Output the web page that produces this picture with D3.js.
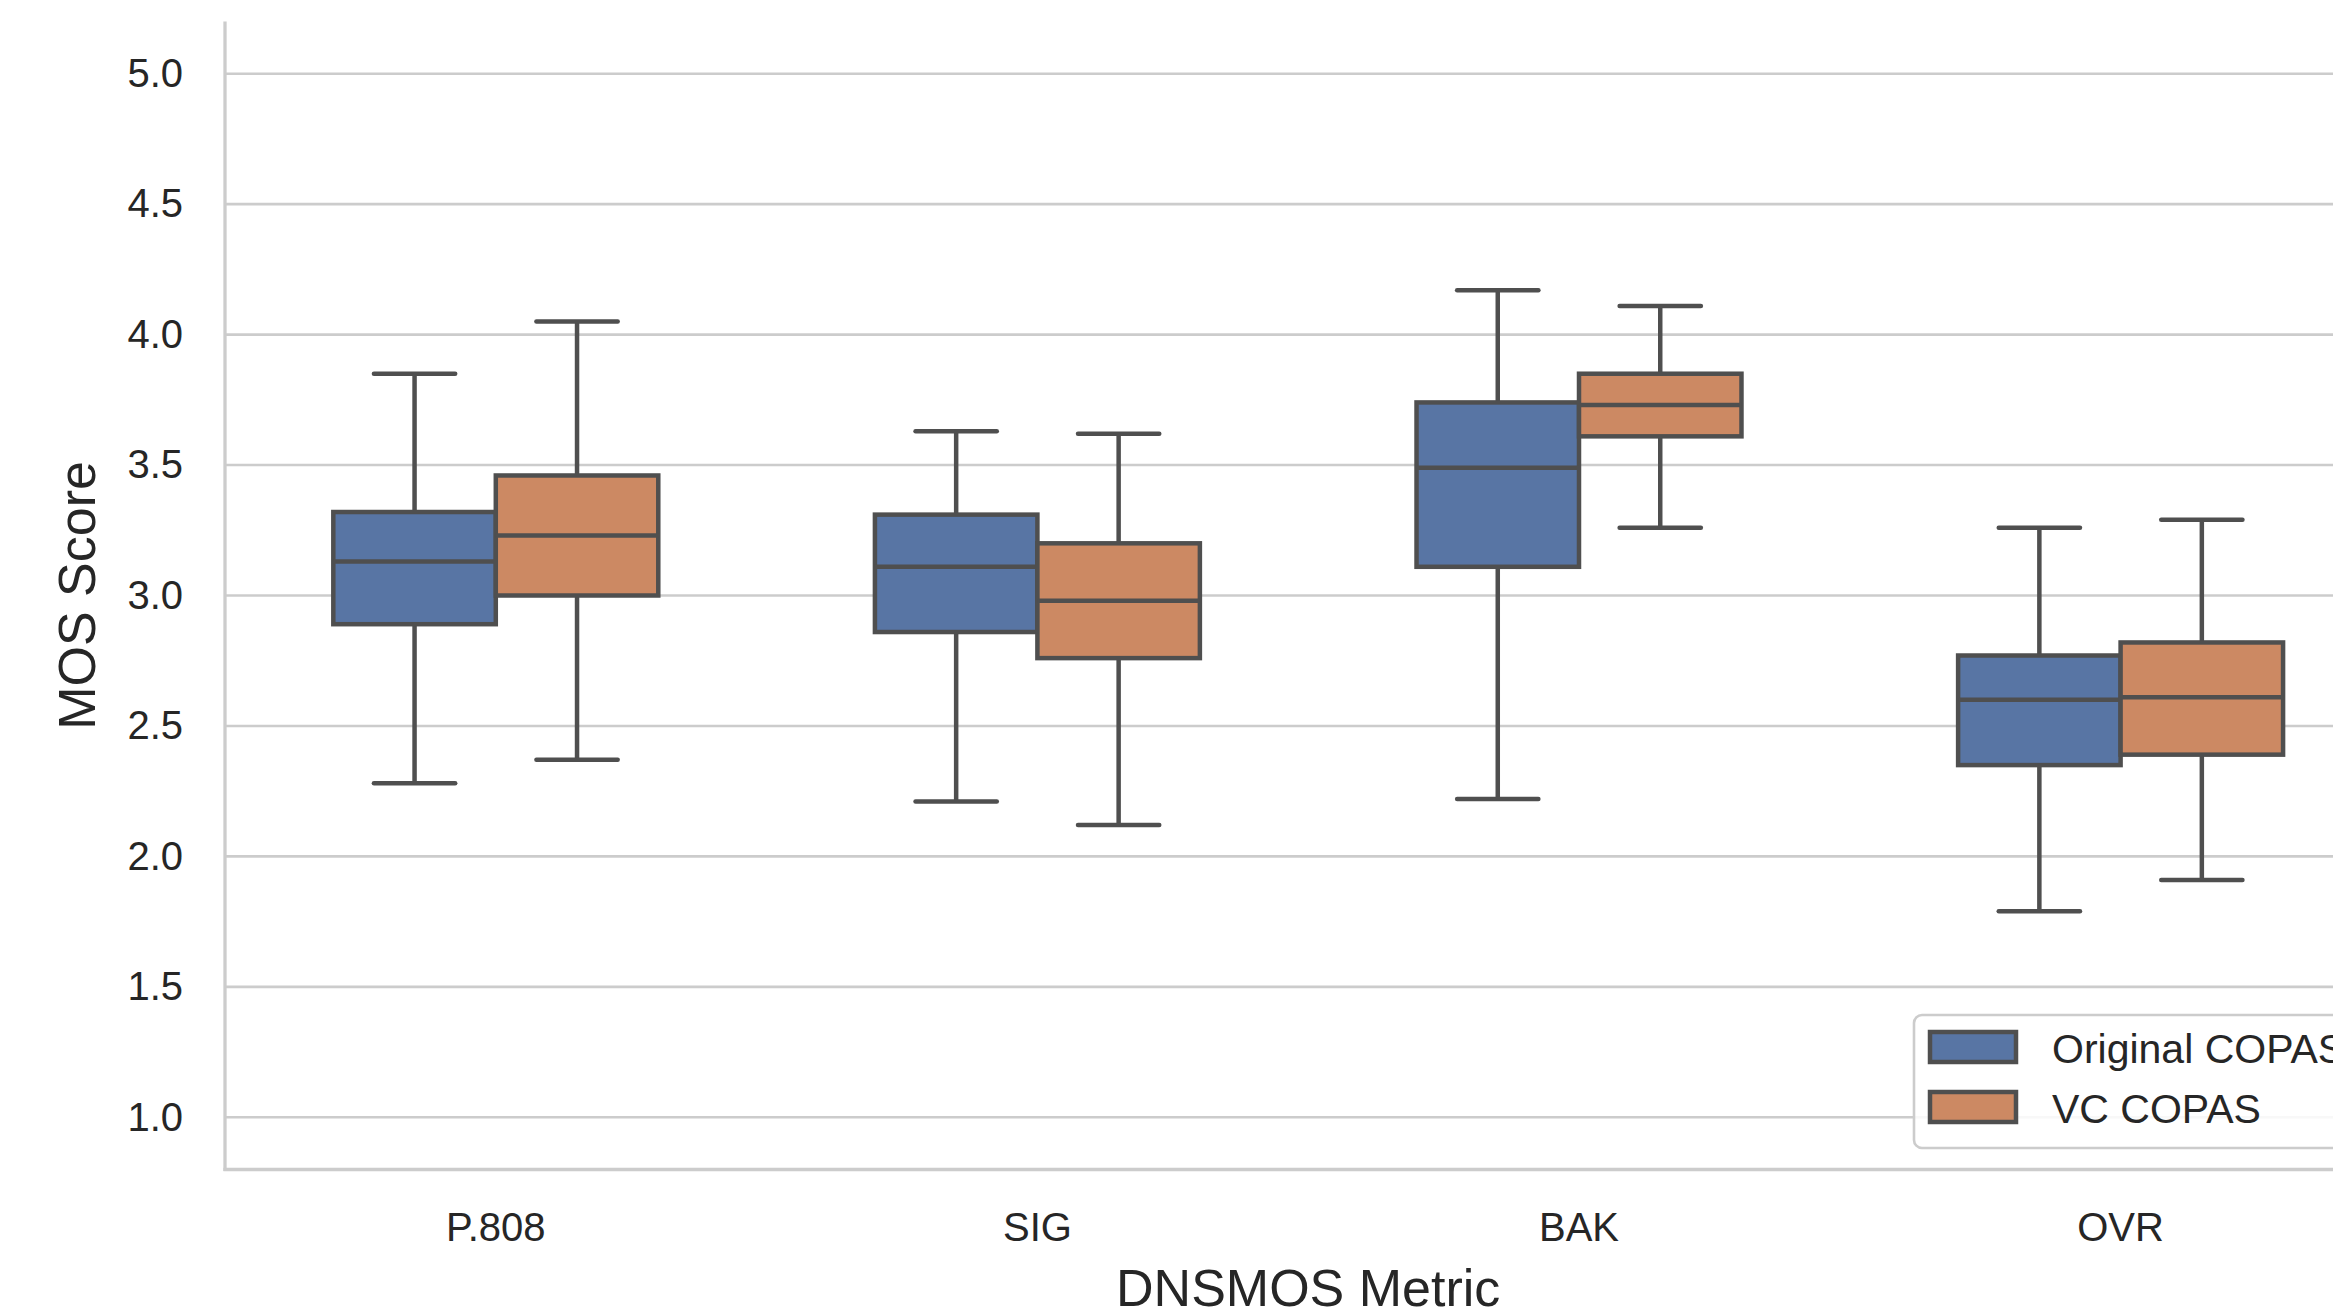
<!DOCTYPE html>
<html>
<head>
<meta charset="utf-8">
<script src="https://cdn.jsdelivr.net/npm/d3@7"></script>
<style>
  html, body { margin: 0; padding: 0; background: #ffffff; overflow: hidden; }
  svg { display: block; font-family: "Liberation Sans", Arial, sans-serif; }
</style>
</head>
<body>
<svg id="chart" width="2333" height="1311"></svg>
<script>
// ---- Data ----
const categories = ["P.808", "SIG", "BAK", "OVR"];
const seriesNames = ["Original COPAS", "VC COPAS"];
const seriesColors = ["#5875a4", "#cc8963"];

// Original COPAS
const origLow  = [2.28, 2.21, 2.22, 1.79];
const origQ1   = [2.89, 2.86, 3.11, 2.35];
const origMed  = [3.13, 3.11, 3.49, 2.60];
const origQ3   = [3.32, 3.31, 3.74, 2.77];
const origHigh = [3.85, 3.63, 4.17, 3.26];

// VC COPAS
const vcLow  = [2.37, 2.12, 3.26, 1.91];
const vcQ1   = [3.00, 2.76, 3.61, 2.39];
const vcMed  = [3.23, 2.98, 3.73, 2.61];
const vcQ3   = [3.46, 3.20, 3.85, 2.82];
const vcHigh = [4.05, 3.62, 4.11, 3.29];

const yTicks = [1.0, 1.5, 2.0, 2.5, 3.0, 3.5, 4.0, 4.5, 5.0];
const xLabel = "DNSMOS Metric";
const yLabel = "MOS Score";

// ---- Build table ----
const boxes = [];
categories.forEach((c, i) => {
  boxes.push({cat: c, series: seriesNames[0], low: origLow[i], q1: origQ1[i], med: origMed[i], q3: origQ3[i], high: origHigh[i]});
  boxes.push({cat: c, series: seriesNames[1], low: vcLow[i], q1: vcQ1[i], med: vcMed[i], q3: vcQ3[i], high: vcHigh[i]});
});

// ---- Layout ----
const svg = d3.select("#chart");
const plotLeft = 225, plotRight = 2391.4, plotTop = 21.5, plotBottom = 1169.5;
const textColor = "#262626";
const gridColor = "#cccccc";
const lineColor = "#4f4f4f";

const x = d3.scaleBand().domain(categories).range([plotLeft, plotRight]).paddingInner(0).paddingOuter(0);
const bw = x.bandwidth();
const xs = d3.scaleBand().domain(seriesNames).range([bw * 0.2, bw * 0.8]).padding(0);
const color = d3.scaleOrdinal().domain(seriesNames).range(seriesColors);
const y = d3.scaleLinear().domain([0.8, 5.2]).range([plotBottom, plotTop]);

// grid
svg.append("g").selectAll("line").data(yTicks).join("line")
  .attr("x1", plotLeft).attr("x2", plotRight)
  .attr("y1", d => y(d)).attr("y2", d => y(d))
  .attr("stroke", gridColor).attr("stroke-width", 2.6);

// y axis ticks
const yAxis = svg.append("g").attr("transform", `translate(${plotLeft},0)`)
  .call(d3.axisLeft(y).tickValues(yTicks).tickFormat(d3.format(".1f")).tickSize(0).tickPadding(42));
yAxis.select(".domain").remove();
yAxis.selectAll("text").attr("font-size", 40).attr("fill", textColor)
  .attr("font-family", "Liberation Sans, Arial, sans-serif");

// x axis ticks
const xAxis = svg.append("g").attr("transform", `translate(0,${plotBottom})`)
  .call(d3.axisBottom(x).tickSize(0).tickPadding(43));
xAxis.select(".domain").remove();
xAxis.selectAll("text").attr("font-size", 40).attr("fill", textColor)
  .attr("font-family", "Liberation Sans, Arial, sans-serif");

// boxes
const sw = 4.5;
const bxw = xs.bandwidth();
const g = svg.append("g");
boxes.forEach(b => {
  const x0 = x(b.cat) + xs(b.series);
  const cx = x0 + bxw / 2;
  const gg = g.append("g");
  // whiskers
  gg.append("line").attr("x1", cx).attr("x2", cx).attr("y1", y(b.q3)).attr("y2", y(b.high))
    .attr("stroke", lineColor).attr("stroke-width", sw);
  gg.append("line").attr("x1", cx).attr("x2", cx).attr("y1", y(b.q1)).attr("y2", y(b.low))
    .attr("stroke", lineColor).attr("stroke-width", sw);
  // caps
  [b.high, b.low].forEach(v => {
    gg.append("line").attr("x1", cx - bxw / 4).attr("x2", cx + bxw / 4)
      .attr("y1", y(v)).attr("y2", y(v))
      .attr("stroke", lineColor).attr("stroke-width", sw).attr("stroke-linecap", "round");
  });
  // box
  gg.append("rect").attr("x", x0).attr("y", y(b.q3)).attr("width", bxw).attr("height", y(b.q1) - y(b.q3))
    .attr("fill", color(b.series)).attr("stroke", lineColor).attr("stroke-width", sw);
  // median
  gg.append("line").attr("x1", x0).attr("x2", x0 + bxw).attr("y1", y(b.med)).attr("y2", y(b.med))
    .attr("stroke", lineColor).attr("stroke-width", sw);
});

// spines
svg.append("line").attr("x1", plotLeft).attr("x2", plotLeft).attr("y1", plotTop).attr("y2", plotBottom + 1.6)
  .attr("stroke", gridColor).attr("stroke-width", 3.3);
svg.append("line").attr("x1", plotLeft - 1.6).attr("x2", plotRight).attr("y1", plotBottom).attr("y2", plotBottom)
  .attr("stroke", gridColor).attr("stroke-width", 3.3);

// axis labels
svg.append("text").attr("x", (plotLeft + plotRight) / 2).attr("y", 1306)
  .attr("text-anchor", "middle").attr("font-size", 52).attr("fill", textColor).text(xLabel);
svg.append("text").attr("transform", `translate(95,${y(3.0)}) rotate(-90)`)
  .attr("text-anchor", "middle").attr("font-size", 52).attr("fill", textColor).text(yLabel);

// legend
const lg = svg.append("g");
lg.append("rect").attr("x", 1914).attr("y", 1015).attr("width", 600).attr("height", 133).attr("rx", 8)
  .attr("fill", "#ffffff").attr("fill-opacity", 0.85).attr("stroke", gridColor).attr("stroke-width", 2.6);
seriesNames.forEach((s, i) => {
  const yy = 1032 + i * 60;
  lg.append("rect").attr("x", 1930).attr("y", yy).attr("width", 86).attr("height", 30)
    .attr("fill", color(s)).attr("stroke", lineColor).attr("stroke-width", sw);
  lg.append("text").attr("x", 2052).attr("y", yy + 31).attr("font-size", 41).attr("fill", textColor).text(s);
});
</script>
</body>
</html>
